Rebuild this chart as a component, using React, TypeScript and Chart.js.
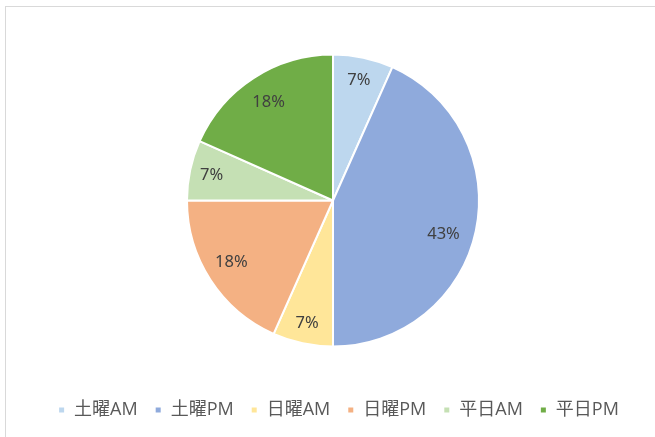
import React, { useEffect, useRef } from "react";
import { Chart, registerables } from "chart.js";

Chart.register(...registerables);

const categories = ["土曜AM", "土曜PM", "日曜AM", "日曜PM", "平日AM", "平日PM"];
const counts = [4, 26, 4, 11, 4, 11];
const colors = ["#BDD7EE", "#8FAADC", "#FFE699", "#F4B183", "#C5E0B4", "#70AD47"];

const pctLabels = {
  id: "pctLabels",
  afterDatasetsDraw(chart: any) {
    const ctx = chart.ctx;
    const meta = chart.getDatasetMeta(0);
    const data = chart.data.datasets[0].data as number[];
    const total = data.reduce((a, b) => a + b, 0);
    ctx.save();
    ctx.font = "16.5px 'Noto Sans', sans-serif";
    ctx.fillStyle = "#404040";
    ctx.textAlign = "center";
    ctx.textBaseline = "middle";
    meta.data.forEach((arc: any, i: number) => {
      const share = data[i] / total;
      const frac = share < 0.1 ? 0.85 : share < 0.3 ? 0.81 : 0.79;
      const { x, y, startAngle, endAngle, outerRadius } = arc.getProps(
        ["x", "y", "startAngle", "endAngle", "outerRadius"],
        true
      );
      const mid = (startAngle + endAngle) / 2 + (share > 0.3 ? 0.08 : share > 0.1 && i === 3 ? 0.04 : 0);
      const r = outerRadius * frac;
      ctx.fillText(Math.round(share * 100) + "%", x + Math.cos(mid) * r, y + Math.sin(mid) * r + 1);
    });
    ctx.restore();
  },
};

// the built-in legend counts a trailing padding in its row width; re-centre it
const legendShift = {
  id: "legendShift",
  afterLayout(chart: any) {
    const lg = chart.legend;
    if (lg) {
      const pad = lg.options.labels.padding || 0;
      lg.left += pad / 2 - 3;
      lg.right += pad / 2 - 3;
    }
  },
};

export default function App() {
  const ref = useRef<HTMLCanvasElement>(null);
  useEffect(() => {
    const chart = new Chart(ref.current!, {
      type: "pie",
      data: {
        labels: categories,
        datasets: [
          {
            data: counts,
            backgroundColor: colors,
            borderColor: "#ffffff",
            borderWidth: 2,
          },
        ],
      },
      options: {
        animation: false,
        responsive: true,
        maintainAspectRatio: false,
        radius: 146,
        layout: { padding: { top: 17, left: 11, right: 0, bottom: 8 } },
        plugins: {
          tooltip: { enabled: false },
          legend: {
            position: "bottom",
            labels: {
              usePointStyle: true,
              pointStyle: "rect",
              boxWidth: 7,
              boxHeight: 7,
              padding: 17,
              color: "#595959",
              font: { size: 18, family: "'Open Sans', 'Noto Sans CJK JP', sans-serif" },
            },
          },
        },
      } as any,
      plugins: [pctLabels, legendShift],
    });
    return () => chart.destroy();
  }, []);
  return (
    <div style={{ position: "fixed", left: 0, top: 0, width: 655, height: 437, background: "#fff" }}>
      <div
        style={{
          position: "absolute",
          left: 5,
          top: 6,
          width: 700,
          height: 500,
          border: "1px solid #d9d9d9",
          boxSizing: "border-box",
        }}
      />
      <canvas ref={ref} style={{ position: "absolute", left: 0, top: 0, width: 655, height: 437 }} />
    </div>
  );
}
